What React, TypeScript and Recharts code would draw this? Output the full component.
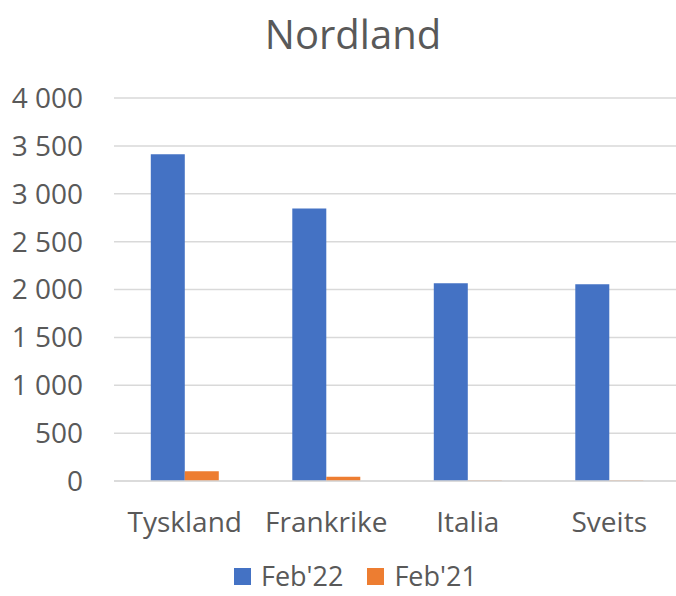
import React from 'react';
import { BarChart, Bar, XAxis, YAxis, CartesianGrid } from 'recharts';

const countries = ['Tyskland', 'Frankrike', 'Italia', 'Sveits'];
const feb22 = [3412, 2846, 2066, 2056];
const feb21 = [102, 45, 4, 4];
const yTicks = [0, 500, 1000, 1500, 2000, 2500, 3000, 3500, 4000];

const BLUE = '#4472C4';
const ORANGE = '#ED7D31';
const TEXT = '#595959';
const FONT = '"Open Sans", "Noto Sans", sans-serif';

const data = countries.map((name, i) => ({ name, feb22: feb22[i], feb21: feb21[i] }));

const fmt = (v: number) => String(v).replace(/\B(?=(\d{3})+(?!\d))/g, ' ');

const LegendItem = ({ color, label }: { color: string; label: string }) => (
  <div style={{ display: 'flex', alignItems: 'center', marginRight: 24 }}>
    <div style={{ width: 17, height: 17, background: color, marginRight: 10 }} />
    <span>{label}</span>
  </div>
);

export default function App() {
  return (
    <div
      style={{
        position: 'absolute',
        left: 0,
        top: 0,
        width: 676,
        height: 596,
        overflow: 'hidden',
        background: '#fff',
        fontFamily: FONT,
        color: TEXT,
      }}
    >
      <div
        style={{
          position: 'absolute',
          top: 6,
          left: 0,
          width: 706,
          textAlign: 'center',
          fontSize: 40,
          lineHeight: '56px',
        }}
      >
        Nordland
      </div>
      <BarChart
        width={680}
        height={596}
        data={data}
        margin={{ top: 98, right: 0, left: 0, bottom: 55 }}
        barCategoryGap="26%"
        barGap={0}
      >
        <CartesianGrid vertical={false} stroke="#D9D9D9" strokeWidth={1.5} />
        <YAxis
          domain={[0, 4000]}
          ticks={yTicks}
          width={114}
          axisLine={false}
          tickLine={false}
          tickMargin={25}
          tickFormatter={fmt}
          tick={{ fontSize: 28, fill: TEXT, fontFamily: FONT }}
          interval={0}
        />
        <XAxis
          dataKey="name"
          height={60}
          axisLine={{ stroke: '#D9D9D9', strokeWidth: 1.5 }}
          tickLine={false}
          tickMargin={25}
          tick={{ fontSize: 28, fill: TEXT, fontFamily: FONT }}
          interval={0}
        />
        <Bar dataKey="feb22" name="Feb'22" fill={BLUE} isAnimationActive={false} />
        <Bar dataKey="feb21" name="Feb'21" fill={ORANGE} isAnimationActive={false} />
      </BarChart>
      <div
        style={{
          position: 'absolute',
          top: 562,
          left: 234,
          height: 28,
          display: 'flex',
          alignItems: 'center',
          fontSize: 27,
          lineHeight: '28px',
        }}
      >
        <LegendItem color={BLUE} label="Feb'22" />
        <LegendItem color={ORANGE} label="Feb'21" />
      </div>
    </div>
  );
}
